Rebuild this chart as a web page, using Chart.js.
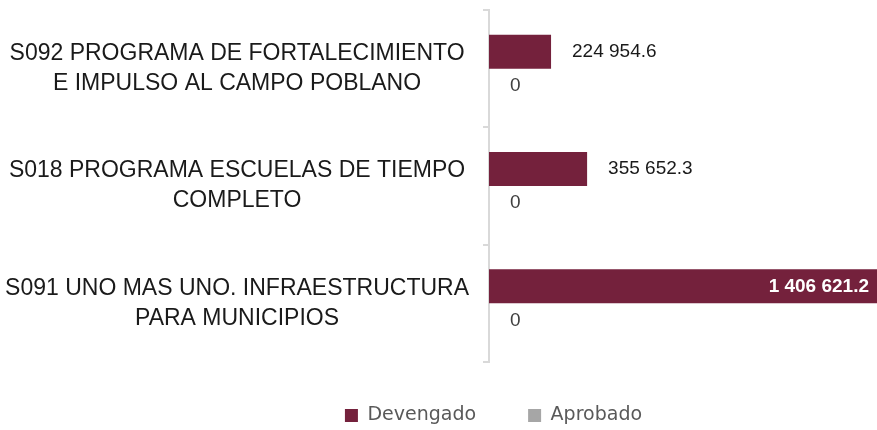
<!DOCTYPE html>
<html>
<head>
<meta charset="utf-8">
<script src="https://cdn.jsdelivr.net/npm/chart.js@4"></script>
<style>
  html, body { margin: 0; padding: 0; background: #fff; }
  #wrap { width: 877px; height: 430px; }
</style>
</head>
<body>
<div id="wrap"><canvas id="grafico"></canvas></div>
<script>
const programas = [
    ['S092 PROGRAMA DE FORTALECIMIENTO', 'E IMPULSO AL CAMPO POBLANO'],
    ['S018 PROGRAMA ESCUELAS DE TIEMPO', 'COMPLETO'],
    ['S091 UNO MAS UNO. INFRAESTRUCTURA', 'PARA MUNICIPIOS']
];
const devengado = [224954.6, 355652.3, 1406621.2];
const aprobado = [0, 0, 0];

const formato = v => v === 0 ? '0' : v.toFixed(1).replace(/\B(?=(\d{3})+(?!\d))/g, ' ');

const etiquetas = {
    id: 'etiquetas',
    afterLayout(chart) {
        // mover la leyenda como en el original
        const lg = chart.legend;
        lg.left += 55; lg.right += 55;
        lg.top -= 8;
    },
    afterDatasetsDraw(chart) {
        const ctx = chart.ctx;
        const maximo = Math.max(...devengado);
        ctx.save();
        ctx.textBaseline = 'middle';
        chart.data.datasets.forEach((ds, i) => {
            chart.getDatasetMeta(i).data.forEach((bar, j) => {
                const v = ds.data[j];
                if (v === maximo) {
                    ctx.font = 'bold 19px "Liberation Sans", Arial, sans-serif';
                    ctx.fillStyle = '#ffffff';
                    ctx.textAlign = 'right';
                    ctx.fillText(formato(v), bar.x - 8, bar.y);
                } else {
                    ctx.font = '19px "Liberation Sans", Arial, sans-serif';
                    ctx.fillStyle = i === 0 ? '#1a1a1a' : '#404040';
                    ctx.textAlign = 'left';
                    ctx.fillText(formato(v), bar.x + 21, bar.y);
                }
            });
        });
        ctx.restore();
    }
};

new Chart(document.getElementById('grafico'), {
    type: 'bar',
    data: {
        labels: programas,
        datasets: [{
            label: 'Devengado',
            data: devengado,
            backgroundColor: '#74213c',
            borderWidth: 0
        }, {
            label: 'Aprobado',
            data: aprobado,
            backgroundColor: '#a6a6a6',
            borderWidth: 0
        }]
    },
    options: {
        indexAxis: 'y',
        responsive: true,
        maintainAspectRatio: false,
        animation: false,
        layout: { padding: { top: 10, right: 0, left: 0, bottom: 0 } },
        datasets: {
            bar: { categoryPercentage: 0.58, barPercentage: 1 }
        },
        scales: {
            x: {
                display: false,
                min: 0,
                max: Math.max(...devengado)
            },
            y: {
                offset: true,
                ticks: {
                    crossAlign: 'center',
                    padding: 14,
                    color: '#1a1a1a',
                    font: { family: '"Liberation Sans", Arial, sans-serif', size: 23, lineHeight: 1.3 }
                },
                grid: {
                    offset: true,
                    drawOnChartArea: false,
                    tickLength: 6,
                    color: '#d9d9d9',
                    lineWidth: 2
                },
                border: { color: '#d9d9d9', width: 2 },
                afterFit: s => {
                    s.width = 489;
                    s.paddingTop = 0;
                    s.paddingBottom = 0;
                }
            }
        },
        plugins: {
            legend: {
                position: 'bottom',
                maxHeight: 68,
                labels: {
                    boxWidth: 13,
                    boxHeight: 13,
                    padding: 52,
                    color: '#595959',
                    font: { family: '"DejaVu Sans", sans-serif', size: 19 }
                }
            },
            tooltip: { enabled: false }
        }
    },
    plugins: [etiquetas]
});
</script>
</body>
</html>
